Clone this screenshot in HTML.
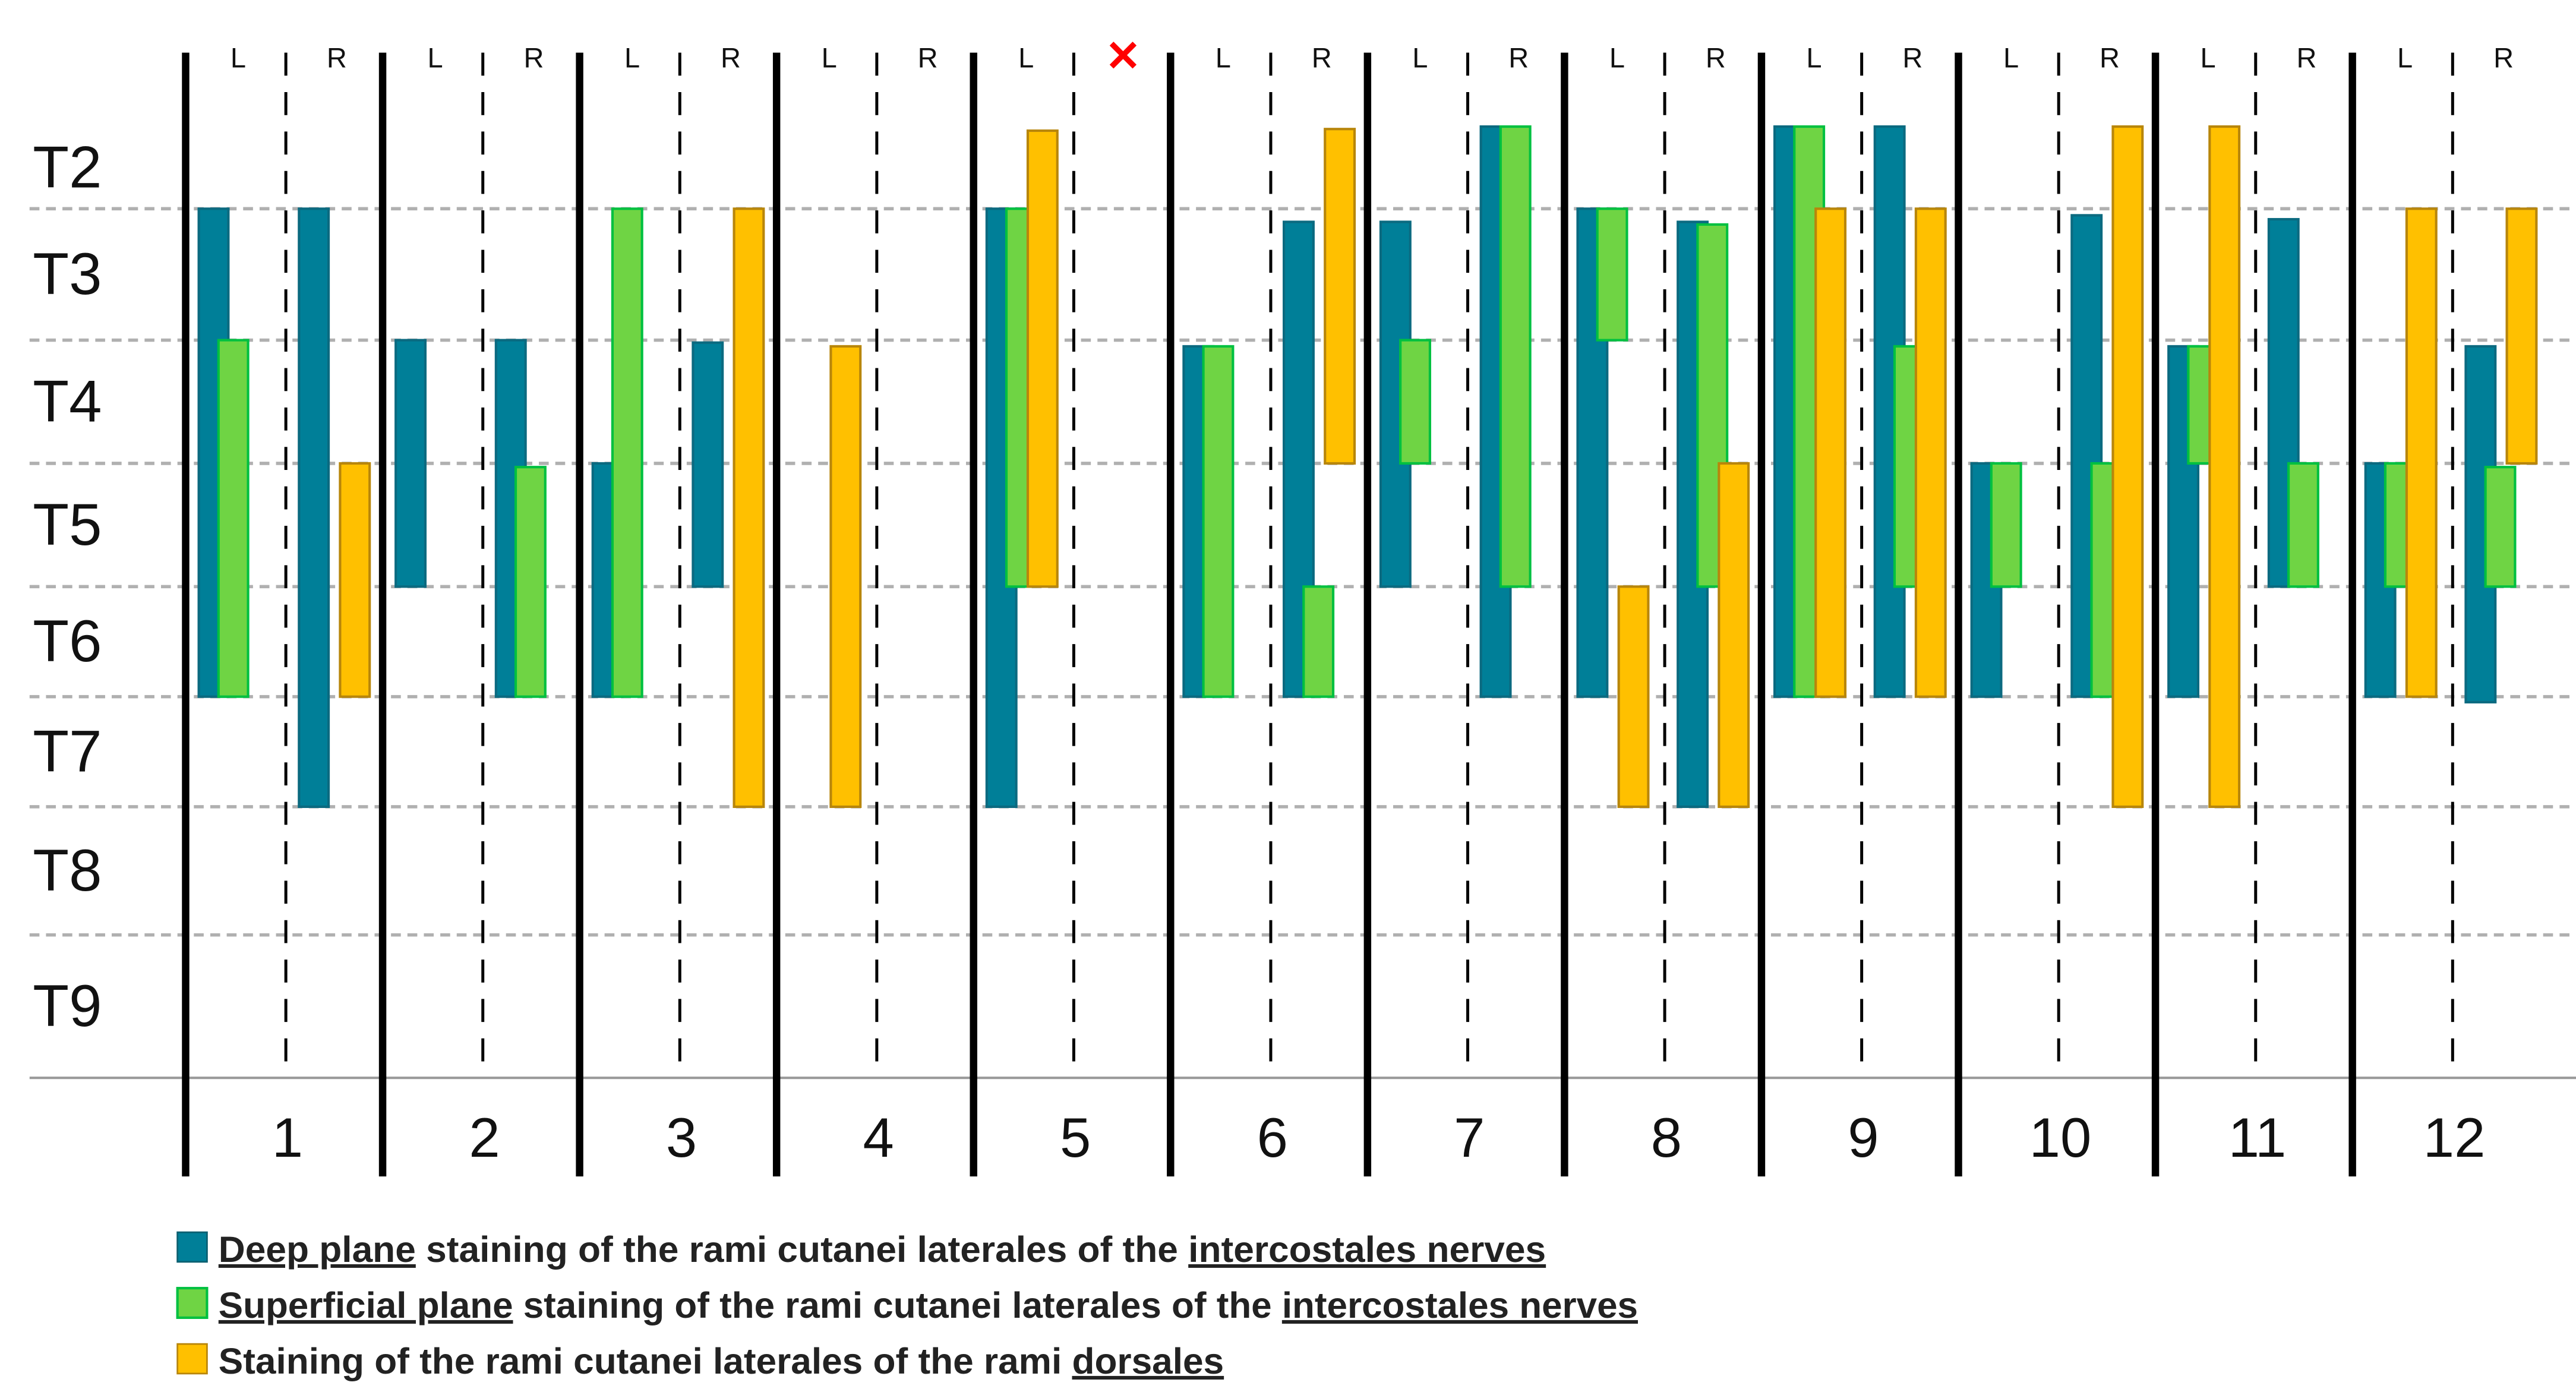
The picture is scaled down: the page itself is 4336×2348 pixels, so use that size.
<!DOCTYPE html>
<html><head><meta charset="utf-8"><style>
html,body{margin:0;padding:0;background:#fff;}
svg{display:block;font-family:"Liberation Sans",sans-serif;}
</style></head><body>
<svg id="chart" width="4336" height="2348" viewBox="0 0 1568 849" xmlns="http://www.w3.org/2000/svg">
<g id="grid"></g>
<g id="bars"></g>
<g id="axes"></g>
<g id="legend">
  <rect x="108" y="750" width="18" height="18" fill="#007F98" stroke="#0b5f70"/>
  <text x="133" y="768" font-size="22" font-weight="bold" fill="#222" textLength="808" lengthAdjust="spacingAndGlyphs"><tspan text-decoration="underline">Deep plane</tspan> staining of the rami cutanei laterales of the <tspan text-decoration="underline">intercostales nerves</tspan></text>
  <rect x="108" y="784" width="18" height="18" fill="#6FD444" stroke="#00c040" stroke-width="1.5"/>
  <text x="133" y="802" font-size="22" font-weight="bold" fill="#222" textLength="864" lengthAdjust="spacingAndGlyphs"><tspan text-decoration="underline">Superficial plane</tspan> staining of the rami cutanei laterales of the <tspan text-decoration="underline">intercostales nerves</tspan></text>
  <rect x="108" y="818" width="18" height="18" fill="#FFC000" stroke="#b8860b"/>
  <text x="133" y="836" font-size="22" font-weight="bold" fill="#222" textLength="612" lengthAdjust="spacingAndGlyphs">Staining of the rami cutanei laterales of the rami <tspan text-decoration="underline">dorsales</tspan></text>
</g>
</svg>
<script>
// Data
const levels = ["T2","T3","T4","T5","T6","T7","T8","T9"];
const subjects = ["1","2","3","4","5","6","7","8","9","10","11","12"];
// bars: [subjectIndex, side(0=L,1=R), startBoundary, endBoundary]
const deepBars = [
 [0,0,1,5],[0,1,1,6],[1,0,2,4],[1,1,2,5],[2,0,3,5],[2,1,2.02,4],[4,0,1,6],
 [5,0,2.05,5],[5,1,1.1,5],[6,0,1.1,4],[6,1,0,5],[7,0,1,5],[7,1,1.1,6],
 [8,0,0,5],[8,1,0,5],[9,0,3,5],[9,1,1.05,5],[10,0,2.05,5],[10,1,1.08,4],
 [11,0,3,5],[11,1,2.05,5.05]
];
const superficialBars = [
 [0,0,2,5],[1,1,3.03,5],[2,0,1,5],[4,0,1,4],[5,0,2.05,5],[5,1,4,5],
 [6,0,2,3],[6,1,0,4],[7,0,1,2],[7,1,1.12,4],[8,0,0,5],[8,1,2.05,4],
 [9,0,3,4],[9,1,3,5],[10,0,2.05,3],[10,1,3,4],[11,0,3,4],[11,1,3.03,4]
];
const dorsalBars = [
 [0,1,3,5],[2,1,1,6],[3,0,2.05,6],[4,0,0.05,4],[5,1,0.03,3],[7,0,4,6],
 [7,1,3,6],[8,0,1,5],[8,1,1,5],[9,1,0,6],[10,0,0,6],[11,0,1,5],[11,1,1,3]
];
const excluded = [[4,1]];

// Scales
const boundaryY = [77,127,207,282,357,424,491,569,656];
function yScale(b){const i=Math.min(Math.floor(b),7);const f=b-i;return boundaryY[i]+(boundaryY[i+1]-boundaryY[i])*f;}
function xSub(i){return 113+i*119.9;}
function xHalf(i,side){return xSub(i)+side*61;}
const NS="http://www.w3.org/2000/svg";
function mk(tag,attrs,parent){const e=document.createElementNS(NS,tag);for(const k in attrs)e.setAttribute(k,attrs[k]);parent.appendChild(e);return e;}
const grid=document.getElementById('grid'),bars=document.getElementById('bars'),axes=document.getElementById('axes');

for(let b=1;b<=7;b++){
  const l=mk('line',{x1:18,x2:1568,y1:yScale(b),y2:yScale(b),stroke:'#b0b0b0','stroke-width':2,'stroke-dasharray':'6 4'},grid);
  
  
}
const base=mk('line',{x1:18,x2:1568,y1:yScale(8),y2:yScale(8),stroke:'#999','stroke-width':1.5},grid);


levels.forEach((t,i)=>{
  const tx=mk('text',{x:20,y:(yScale(i)+yScale(i+1))/2+12,'font-size':36,fill:'#111'},axes);
  tx.textContent=t;
  
  
});

subjects.forEach((s,i)=>{
  const x=xSub(i);
  const sep=mk('line',{x1:x,x2:x,y1:32,y2:716,stroke:'#000','stroke-width':4.5},axes);
  
  
  const mid=mk('line',{x1:x+61,x2:x+61,y1:32,y2:655,stroke:'#000','stroke-width':1.8,'stroke-dasharray':'14 10'},axes);
  
  
  const lab=mk('text',{x:x+62,y:704,'font-size':34,'text-anchor':'middle',fill:'#111'},axes);
  lab.textContent=s;
  
  
  ['L','R'].forEach((sd,j)=>{
    if(excluded.some(e=>e[0]===i&&e[1]===j))return;
    const t=mk('text',{x:x+32+j*60,y:41,'font-size':17,'text-anchor':'middle',fill:'#111'},axes);
    t.textContent=sd;
    
    
  });
});
excluded.forEach(e=>{
  const t=mk('text',{x:xHalf(e[0],e[1])+30,y:43,'font-size':26,'font-weight':'bold','text-anchor':'middle',fill:'#f00'},axes);
  t.textContent='✕';
  
  
});

const styles=[
 {fill:'#007F98',stroke:'#0b6a80',off:8,name:'deep'},
 {fill:'#6FD444',stroke:'#00c040',off:20,name:'superficial'},
 {fill:'#FFC000',stroke:'#b8860b',off:33,name:'dorsal'}
];
[deepBars,superficialBars,dorsalBars].forEach((arr,si)=>{
  const st=styles[si];
  arr.forEach(b=>{
    const y1=yScale(b[2]),y2=yScale(b[3]);
    const r=mk('rect',{x:xHalf(b[0],b[1])+st.off,y:y1,width:18,height:y2-y1,fill:st.fill,stroke:st.stroke,'stroke-width':1.5},bars);
    
    
  });
});
</script>
</body></html>
